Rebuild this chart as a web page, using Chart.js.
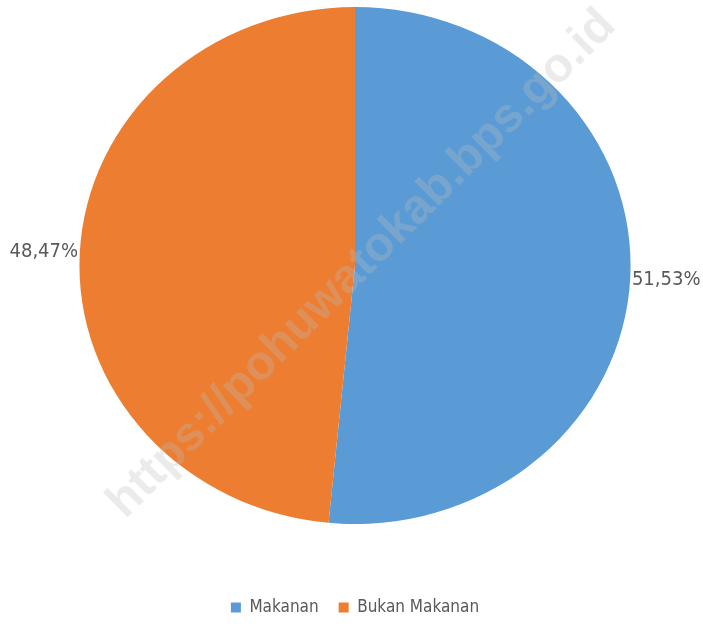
<!DOCTYPE html>
<html>
<head>
<meta charset="utf-8">
<script src="https://cdn.jsdelivr.net/npm/chart.js@4"></script>
<style>
  html, body { margin: 0; padding: 0; background: #fff; }
  #wrap { width: 703px; height: 624px; }
</style>
</head>
<body>
<div id="wrap"><canvas id="pie"></canvas></div>
<script>
const categories = ["Makanan", "Bukan Makanan"];
const shares = [51.53, 48.47];
const shareLabels = ["51,53%", "48,47%"];
const sliceColors = ["#5B9BD5", "#ED7D31"];

const narrow = "'Liberation Sans Narrow', 'DejaVu Sans Condensed', sans-serif";
const stretchX = 1.066; // the source pie is slightly wider than tall

// widen the pie a little around its centre
const stretch = {
  id: "stretch",
  beforeDatasetsDraw(chart) {
    const arc = chart.getDatasetMeta(0).data[0];
    chart.ctx.save();
    chart.ctx.translate(arc.x, 0);
    chart.ctx.scale(stretchX, 1);
    chart.ctx.translate(-arc.x, 0);
  },
  afterDatasetsDraw(chart) {
    chart.ctx.restore();
  }
};

// percentage labels outside each slice
const outsideLabels = {
  id: "outsideLabels",
  afterDatasetsDraw(chart) {
    const ctx = chart.ctx;
    const meta = chart.getDatasetMeta(0);
    ctx.save();
    ctx.font = "20px " + narrow;
    ctx.fillStyle = "#595959";
    ctx.textAlign = "center";
    ctx.textBaseline = "middle";
    meta.data.forEach((arc, i) => {
      const mid = (arc.startAngle + arc.endAngle) / 2;
      const x = arc.x + Math.cos(mid) * (arc.outerRadius * stretchX + 36);
      const y = arc.y + Math.sin(mid) * (arc.outerRadius + 36);
      ctx.fillText(shareLabels[i], x, y);
    });
    ctx.restore();
  }
};

// faint site watermark across the picture
const watermark = {
  id: "watermark",
  afterDraw(chart) {
    const ctx = chart.ctx;
    ctx.save();
    ctx.translate(362, 264);
    ctx.rotate(-Math.PI / 4);
    ctx.font = "bold 48px 'Liberation Sans', Arial, sans-serif";
    ctx.fillStyle = "rgba(190,190,190,0.3)";
    ctx.textAlign = "center";
    ctx.textBaseline = "middle";
    ctx.fillText("https://pohuwatokab.bps.go.id", 0, 0);
    ctx.restore();
  }
};

new Chart(document.getElementById("pie"), {
  type: "pie",
  data: {
    labels: categories,
    datasets: [{
      data: shares,
      backgroundColor: sliceColors,
      borderWidth: 0
    }]
  },
  options: {
    responsive: true,
    maintainAspectRatio: false,
    animation: false,
    layout: { padding: { top: 7, bottom: -2, left: 55, right: 48 } },
    plugins: {
      tooltip: { enabled: false },
      legend: {
        position: "bottom",
        title: { display: true, text: " ", padding: { top: 43, bottom: 0 }, font: { size: 10 } },
        labels: {
          boxWidth: 10,
          boxHeight: 10,
          padding: 20,
          color: "#595959",
          font: { size: 17, family: narrow }
        }
      }
    }
  },
  plugins: [stretch, outsideLabels, watermark]
});
</script>
</body>
</html>
